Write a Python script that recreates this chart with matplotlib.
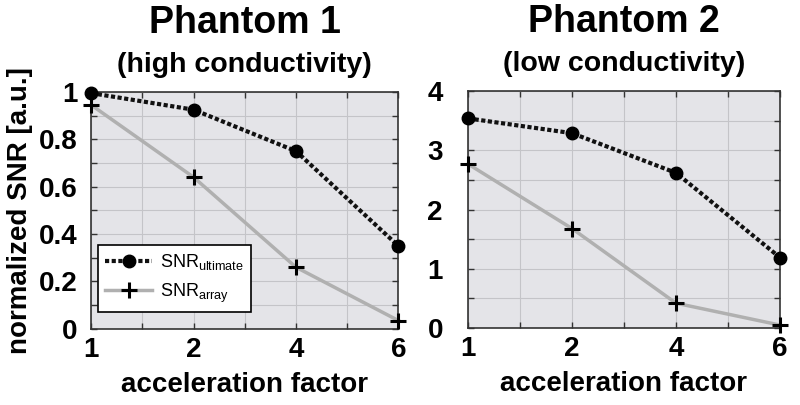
import numpy as np
import matplotlib
matplotlib.use("Agg")
import matplotlib.pyplot as plt

plt.rcParams.update({
    'font.family': ['Liberation Sans', 'DejaVu Sans'],
    'mathtext.fontset': 'custom',
    'mathtext.rm': 'Liberation Sans',
    'mathtext.it': 'Liberation Sans',
    'mathtext.bf': 'Liberation Sans:bold',
})

accel = ["1", "2", "4", "6"]
ult_p1 = [0.995, 0.925, 0.75, 0.35]
arr_p1 = [0.945, 0.64, 0.26, 0.035]
ult_p2 = [3.54, 3.29, 2.62, 1.19]
arr_p2 = [2.77, 1.68, 0.42, 0.05]

titles = ["Phantom 1", "Phantom 2"]
subtitles = ["(high conductivity)", "(low conductivity)"]

fig = plt.figure(figsize=(8, 4.05), dpi=100)
ax1 = fig.add_axes([0.114, 0.188, 0.384, 0.585])
ax2 = fig.add_axes([0.585, 0.190, 0.390, 0.585])

xpos = np.arange(len(accel))

for i, (ax, ult, arr, ymax, ystep, ylab, ypad) in enumerate([
        (ax1, ult_p1, arr_p1, 1.0, 0.1, [0, 0.2, 0.4, 0.6, 0.8, 1], 10),
        (ax2, ult_p2, arr_p2, 4.0, 0.5, [0, 1, 2, 3, 4], 18)]):
    ax.set_facecolor('#e4e4e8')
    ax.plot(xpos, arr, color='#b0b0b0', lw=2.5, marker='+', ms=11, mew=2.2,
            mec='black', clip_on=False, zorder=3, label=r'SNR$_{\mathrm{array}}$')
    ax.plot(xpos, ult, color='#111111', lw=3, ls=(0, (1, 0.6)), marker='o', ms=9,
            mfc='black', mec='black', clip_on=False, zorder=4,
            label=r'SNR$_{\mathrm{ultimate}}$')
    ax.set_xlim(0, 3)
    ax.set_ylim(0, ymax)
    ax.set_xticks(np.arange(0, 3.01, 0.5))
    ax.set_xticklabels(["1", "", "2", "", "4", "", "6"])
    yt = np.arange(0, ymax + 1e-9, ystep)
    ax.set_yticks(yt)
    ax.set_yticklabels([("%g" % v) if any(abs(v - t) < 1e-9 for t in ylab) else ""
                        for v in yt])
    ax.grid(True, color='#c4c4c8', lw=0.8)
    ax.set_axisbelow(True)
    ax.tick_params(direction='in', length=4, width=1, top=True, right=True,
                   labelsize=20, color='#333333')
    ax.tick_params(axis='x', pad=6)
    ax.tick_params(axis='y', pad=ypad)
    for lab in ax.get_xticklabels() + ax.get_yticklabels():
        lab.set_fontweight('bold')
    for s in ax.spines.values():
        s.set_color('#333333')
        s.set_linewidth(1.2)
    ax.set_xlabel("acceleration factor", fontsize=20, fontweight='bold', labelpad=6)
    ax.text(0.5, 1.215, titles[i], transform=ax.transAxes, ha='center', va='bottom',
            fontsize=27, fontweight='bold')
    ax.text(0.5, 1.06, subtitles[i], transform=ax.transAxes, ha='center', va='bottom',
            fontsize=20.5, fontweight='bold')

ax1.set_ylabel("normalized SNR [a.u.]", fontsize=20, fontweight='bold', labelpad=4)

h, l = ax1.get_legend_handles_labels()
leg = ax1.legend(h[::-1], l[::-1], loc='lower left', bbox_to_anchor=(0.023, 0.072),
                 borderaxespad=0, fontsize=13, fancybox=False, framealpha=1,
                 edgecolor='black', handlelength=2.6, handletextpad=0.4,
                 borderpad=0.4, labelspacing=0.5)
leg.get_frame().set_linewidth(1.2)

fig.savefig("out.png", dpi=100, facecolor='white')
